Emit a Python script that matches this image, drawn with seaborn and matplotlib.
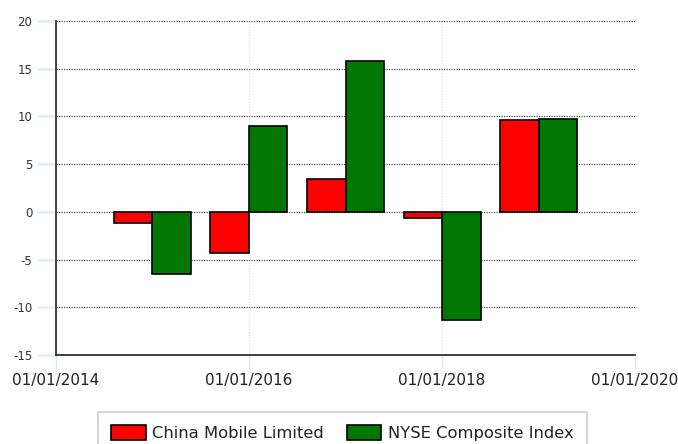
import numpy as np
import pandas as pd
import matplotlib
matplotlib.use("Agg")
import matplotlib.pyplot as plt
import matplotlib.dates as mdates
import seaborn as sns

# データ（年次リターン %）
years = ["2015-01-01", "2016-01-01", "2017-01-01", "2018-01-01", "2019-01-01"]
china_mobile = [-1.2, -4.3, 3.4, -0.6, 9.6]
nyse = [-6.5, 9.0, 15.8, -11.3, 9.7]
series_names = ["China Mobile Limited", "NYSE Composite Index"]

dates = mdates.date2num(pd.to_datetime(years))
df = pd.DataFrame({
    "date": np.concatenate([dates, dates]),
    "value": china_mobile + nyse,
    "series": [series_names[0]] * len(years) + [series_names[1]] * len(years),
})

sns.set_style("white")
plt.rcParams["font.family"] = ["DejaVu Sans"]
plt.rcParams["axes.unicode_minus"] = False

fig = plt.figure(figsize=(6.78, 4.44), dpi=100)
ax = fig.add_axes([56 / 678, 1 - 355 / 444, (635 - 56) / 678, (355 - 21) / 444])

sns.barplot(data=df, x="date", y="value", hue="series", hue_order=series_names,
            native_scale=True, palette=["#ff0000", "#007800"], width=0.8,
            edgecolor="black", linewidth=1.2, saturation=1, ax=ax, zorder=3)

ax.set_xlim(mdates.date2num(pd.Timestamp("2014-01-01")), mdates.date2num(pd.Timestamp("2020-01-01")))
ax.set_ylim(-15, 20)
ax.set_yticks(range(-15, 21, 5))
ax.xaxis.set_major_locator(mdates.YearLocator(2))
ax.xaxis.set_major_formatter(mdates.DateFormatter("%d/%m/%Y"))
ax.set_xlabel("")
ax.set_ylabel("")

# グリッド
ax.grid(axis="y", color="#555555", linestyle=(0, (1, 1)), linewidth=0.9, zorder=0)
ax.grid(axis="x", color="#dde9f7", linestyle=(0, (1, 1)), linewidth=1, zorder=0)

for s in ["top", "right"]:
    ax.spines[s].set_visible(False)
for s in ["left", "bottom"]:
    ax.spines[s].set_color("#222222")
    ax.spines[s].set_linewidth(1.2)

ax.tick_params(axis="y", left=True, length=14, width=2, color="#e3eefa", labelsize=8.5,
               labelcolor="#333333", pad=3)
ax.tick_params(axis="x", bottom=True, length=10, width=1, color="#dde9f7", labelsize=11,
               labelcolor="#222222", pad=3)

# 凡例
handles, labels = ax.get_legend_handles_labels()
ax.legend_.remove()
leg = fig.legend(handles, labels, loc="upper center", bbox_to_anchor=(0.505, 0.072),
                 ncol=2, fontsize=11.8, frameon=True, fancybox=False,
                 edgecolor="#cccccc", handlelength=2.1, handleheight=1.0,
                 handletextpad=0.4, columnspacing=1.4, borderpad=0.8,
                 borderaxespad=0)
leg.get_frame().set_linewidth(1.5)
for t in leg.get_texts():
    t.set_color("#222222")

fig.savefig("out.png", dpi=100)
